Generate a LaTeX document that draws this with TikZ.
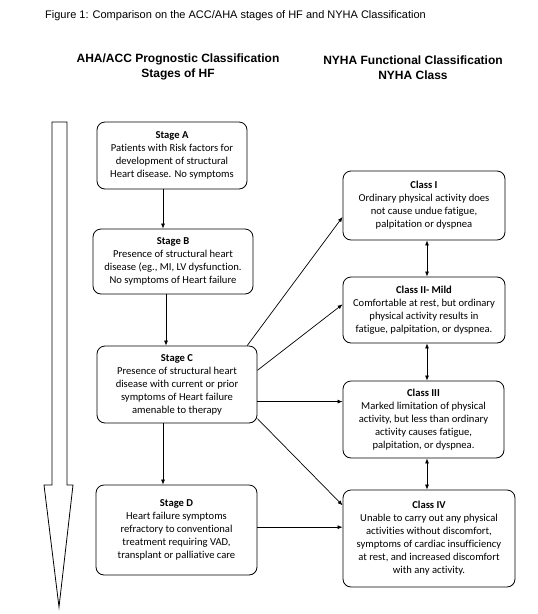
\documentclass[tikz,border=0pt]{standalone}
\usepackage{fontspec}
\setmainfont{Carlito}[Ligatures=NoCommon]
\newfontfamily\arialfont{Liberation Sans}
\usetikzlibrary{arrows.meta}
\begin{document}
\begin{tikzpicture}[x=1pt,y=-1pt,
  box/.style={draw,line width=0.8pt,rounded corners=8pt,align=center,inner sep=2pt,
    font=\fontsize{10.6}{13}\selectfont},
  arr/.style={line width=0.7pt,-{Latex[length=5pt,width=4pt]}},
  darr/.style={line width=0.7pt,{Latex[length=5pt,width=4pt]}-{Latex[length=5pt,width=4pt]}},
  hdr/.style={font=\arialfont\bfseries\fontsize{12}{15}\selectfont,align=center}]
\useasboundingbox (0,0) rectangle (538,614);
\node[font=\arialfont\fontsize{11}{12}\selectfont,anchor=west,inner sep=0pt] (title) at (45,16) {Figure 1: Comparison on the ACC/AHA stages of HF and NYHA Classification};
\node[hdr] (hl) at (178,67) {AHA/ACC Prognostic Classification\\Stages of HF};
\node[hdr] (hr) at (413,68) {NYHA Functional Classification\\NYHA Class};
% big arrow
\draw[line width=0.8pt] (52,122) -- (67,122) -- (67,485) -- (73,485) -- (59,607) -- (44,485) -- (52,485) -- cycle;
% stages
\node[box,minimum width=150pt,minimum height=67pt] (A) at (172,155.5)
  {\textbf{Stage A}\\Patients with Risk factors for\\development of structural\\Heart disease. No symptoms};
\node[box,minimum width=160pt,minimum height=65pt] (B) at (173,261.5)
  {\textbf{Stage B}\\Presence of structural heart\\disease (eg., MI, LV dysfunction.\\No symptoms of Heart failure};
\node[box,minimum width=160pt,minimum height=77pt] (C) at (177,384.5)
  {\textbf{Stage C}\\Presence of structural heart\\disease with current or prior\\symptoms of Heart failure\\amenable to therapy};
\node[box,minimum width=161pt,minimum height=90pt] (D) at (176.5,530)
  {\textbf{Stage D}\\Heart failure symptoms\\refractory to conventional\\treatment requiring VAD,\\transplant or palliative care};
% classes
\node[box,minimum width=162pt,minimum height=69pt] (I) at (424,205.5)
  {\textbf{Class I}\\Ordinary physical activity does\\not cause undue fatigue,\\palpitation or dyspnea};
\node[box,minimum width=162pt,minimum height=66pt] (II) at (424,310)
  {\textbf{Class II- Mild}\\Comfortable at rest, but ordinary\\physical activity results in\\fatigue, palpitation, or dyspnea.};
\node[box,minimum width=161pt,minimum height=77pt] (III) at (423.5,419.5)
  {\textbf{Class III}\\Marked limitation of physical\\activity, but less than ordinary\\activity causes fatigue,\\palpitation, or dyspnea.};
\node[box,minimum width=172pt,minimum height=97pt] (IV) at (429,538.5)
  {\textbf{Class IV}\\Unable to carry out any physical\\activities without discomfort,\\symptoms of cardiac insufficiency\\at rest, and increased discomfort\\with any activity.};
% vertical connectors
\coordinate (xab) at (163,0);
\coordinate (xbc) at (166,0);
\coordinate (xcd) at (163,0);
\coordinate (xcl) at (427,0);
\draw[arr] (A.south -| xab) -- (B.north -| xab);
\draw[arr] (B.south -| xbc) -- (C.north -| xbc);
\draw[arr] (C.south -| xcd) -- (D.north -| xcd);
\draw[darr] (I.south -| xcl) -- (II.north -| xcl);
\draw[darr] (II.south -| xcl) -- (III.north -| xcl);
\draw[darr] (III.south -| xcl) -- (IV.north -| xcl);
% diagonal connectors
\draw[arr] (C.29) -- (I.188);
\draw[arr] (C.10) -- (II.176);
\draw[arr] (C.-12.3) -- (C.-12.3 -| III.west);
\draw[arr] (C.-23) -- (IV.159);
\draw[arr] (D.2.8) -- (D.2.8 -| IV.west);
\end{tikzpicture}
\end{document}
